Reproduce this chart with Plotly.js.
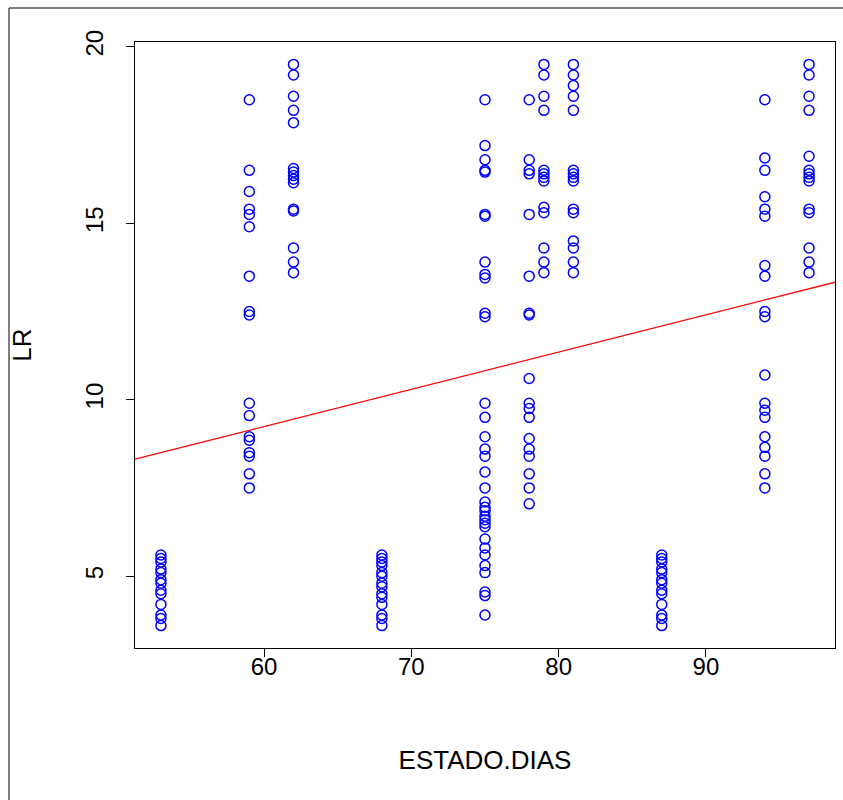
<!DOCTYPE html>
<html>
<head>
<meta charset="utf-8">
<script src="https://cdn.plot.ly/plotly-3.0.1.min.js"></script>
<style>html,body{margin:0;padding:0;background:#fff}#chart{width:843px;height:800px}</style>
</head>
<body>
<div id="chart"></div>
<script>
// ESTADO.DIAS groups and LR readings per group
const days = [53, 59, 62, 68, 75, 78, 79, 81, 87, 94, 97];
const lr53 = [5.6, 5.5, 5.4, 5.2, 5.1, 4.9, 4.8, 4.6, 4.5, 4.2, 3.9, 3.8, 3.6];
const lr59 = [18.5, 16.5, 15.9, 15.4, 15.25, 14.9, 13.5, 12.5, 12.4, 9.9, 9.55, 8.95, 8.85, 8.5, 8.4, 7.9, 7.5];
const lr62 = [19.5, 19.2, 18.6, 18.2, 17.85, 16.55, 16.45, 16.35, 16.25, 16.15, 15.4, 15.35, 14.3, 13.9, 13.6];
const lr68 = [5.6, 5.5, 5.4, 5.3, 5.1, 5.0, 4.8, 4.7, 4.5, 4.4, 4.2, 3.9, 3.8, 3.6];
const lr75 = [18.5, 17.2, 16.8, 16.5, 16.45, 15.25, 15.2, 13.9, 13.55, 13.45, 12.45, 12.35, 9.9, 9.5, 8.95, 8.6, 8.4, 7.95, 7.5, 7.1, 6.95, 6.85, 6.7, 6.6, 6.5, 6.4, 6.05, 5.8, 5.6, 5.3, 5.1, 4.55, 4.45, 3.9];
const lr78 = [18.5, 16.8, 16.5, 16.4, 15.25, 13.5, 12.45, 12.4, 10.6, 9.9, 9.75, 9.5, 8.9, 8.6, 8.4, 7.9, 7.5, 7.05];
const lr79 = [19.5, 19.2, 18.6, 18.2, 16.5, 16.4, 16.3, 16.2, 15.45, 15.3, 14.3, 13.9, 13.6];
const lr81 = [19.5, 19.2, 18.9, 18.6, 18.2, 16.5, 16.4, 16.3, 16.2, 15.4, 15.3, 14.5, 14.3, 13.9, 13.6];
const lr87 = [5.6, 5.5, 5.4, 5.2, 5.1, 4.9, 4.8, 4.6, 4.5, 4.2, 3.9, 3.8, 3.6];
const lr94 = [18.5, 16.85, 16.5, 15.75, 15.4, 15.2, 13.8, 13.5, 12.5, 12.35, 10.7, 9.9, 9.7, 9.5, 8.95, 8.65, 8.4, 7.9, 7.5];
const lr97 = [19.5, 19.2, 18.6, 18.2, 16.9, 16.5, 16.4, 16.3, 16.2, 15.4, 15.3, 14.3, 13.9, 13.6];
const groups = [lr53, lr59, lr62, lr68, lr75, lr78, lr79, lr81, lr87, lr94, lr97];

// fitted regression LR ~ ESTADO.DIAS
const fitIntercept = 2.91;
const fitSlope = 0.1055;

// tick labels
const xTicks = [60, 70, 80, 90];
const yTicks = [5, 10, 15, 20];

const xs = [], ys = [];
groups.forEach((g, i) => g.forEach(v => { xs.push(days[i]); ys.push(v); }));

// R-style 4% axis extension
const xMin = Math.min(...xs), xMax = Math.max(...xs);
const yMin = Math.min(...ys), yMax = Math.max(...ys);
const xRange = [xMin - 0.04 * (xMax - xMin), xMax + 0.04 * (xMax - xMin)];
const yRange = [yMin - 0.04 * (yMax - yMin), yMax + 0.04 * (yMax - yMin)];

const FONT = 'Liberation Sans, Arial, sans-serif';

const traces = [
  {
    x: xs, y: ys, type: 'scatter', mode: 'markers',
    marker: {symbol: 'circle-open', size: 10, color: '#0000FF', line: {width: 1.5, color: '#0000FF'}},
    hoverinfo: 'x+y', showlegend: false
  },
  {
    x: xRange, y: xRange.map(v => fitIntercept + fitSlope * v),
    type: 'scatter', mode: 'lines', line: {color: '#FF0000', width: 1.3},
    hoverinfo: 'skip', showlegend: false
  }
];

const layout = {
  width: 843, height: 800,
  margin: {l: 135, r: 8, t: 42, b: 152},
  paper_bgcolor: '#fff', plot_bgcolor: '#fff',
  font: {family: FONT, size: 24, color: '#000'},
  xaxis: {
    range: xRange, tickvals: xTicks, ticktext: xTicks.map(String),
    ticks: 'outside', ticklen: 8, tickwidth: 1, tickcolor: '#000',
    ticklabelstandoff: -11,
    showline: true, mirror: true, linecolor: '#000', linewidth: 1,
    showgrid: false, zeroline: false,
    tickfont: {family: FONT, size: 24},
    title: {text: 'ESTADO.DIAS', font: {family: FONT, size: 26}, standoff: 72}
  },
  yaxis: {
    range: yRange, tickvals: yTicks, ticktext: yTicks.map(String),
    ticks: 'outside', ticklen: 8, tickwidth: 1, tickcolor: '#000', tickangle: -90,
    ticklabelstandoff: 13,
    showline: true, mirror: true, linecolor: '#000', linewidth: 1,
    showgrid: false, zeroline: false,
    tickfont: {family: FONT, size: 24},
    title: {text: 'LR', font: {family: FONT, size: 26}, standoff: 42}
  },
  shapes: [{
    type: 'rect', xref: 'paper', yref: 'paper',
    x0: -0.18, x1: 1.2, y0: -0.4, y1: 1.0561,
    line: {color: '#000', width: 1}, fillcolor: 'rgba(0,0,0,0)', layer: 'below'
  }]
};

Plotly.newPlot('chart', traces, layout, {displayModeBar: false, staticPlot: true});
</script>
</body>
</html>
